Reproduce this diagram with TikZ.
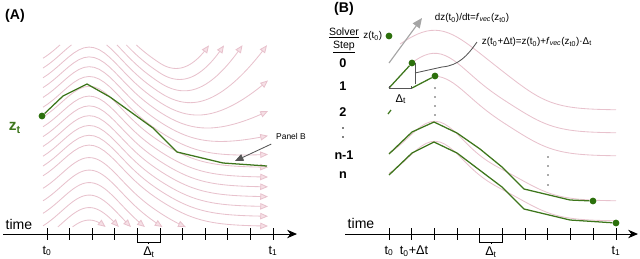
\documentclass[tikz,border=0pt]{standalone}
\usepackage{fontspec}
\setmainfont{Liberation Sans}
\usepackage{tikz}
\usetikzlibrary{arrows.meta, positioning, calc}
\definecolor{streampink}{RGB}{232,194,205}
\definecolor{streamfill}{RGB}{246,224,230}
\definecolor{pathgreen}{RGB}{62,118,28}
\definecolor{dotgreen}{RGB}{44,112,12}
\definecolor{notegray}{RGB}{85,85,85}
\definecolor{slopegray}{RGB}{165,165,165}
\tikzset{declare function={
    sA(\x)=-42*exp(-(((\x-90)/40)^2))+40/(1+exp(-(\x-168)/20))+10.5;
    sbend(\x)=(\x>160)*((\x-160)/108)^2;
    sB(\x,\w)=42-42*exp(-(((\x-435)/\w)^2))+38/(1+exp(-(\x-525)/18));
}}

\begin{document}
\begin{tikzpicture}[x=0.025cm, y=-0.025cm, font=\fontsize{9}{11}\selectfont,
    stream/.style={streampink, line width=0.6pt},
    streamarr/.style={stream, -{Triangle[length=5.5pt, width=4.6pt, fill=streamfill]}},
    euler/.style={pathgreen, line width=0.9pt, line join=round},
    dot/.style={circle, fill=dotgreen, inner sep=0pt, minimum size=0.17cm},
    axis/.style={line width=0.7pt, -{Stealth[length=7pt, width=6pt]}},
    tick/.style={line width=0.7pt},
    brk/.style={line width=0.6pt},
    callout/.style={notegray, line width=0.6pt},
    notearr/.style={notegray, line width=0.6pt, -{Triangle[length=6pt, width=5pt]}},
    slopearr/.style={slopegray, line width=0.8pt, -{Triangle[length=7pt, width=6pt]}},
    note/.style={font=\fontsize{7}{8}\selectfont},
    steplbl/.style={font=\bfseries\fontsize{9}{10}\selectfont}]
    \useasboundingbox (0,0) rectangle (640,258);

    % panel A: flow field
    \foreach \lev/\bend/\xa/\xb in {38.6/190.5/136.4/209, 48.4/145.9/126.4/224,
        58.2/107.2/117/242.5, 68/74.4/106.6/267, 77.8/47.6/43/268, 87.6/26.8/43/268, 97.4/11.9/43/268,
        107.2/3/43/268, 117/0/43/268, 126.8/0/43/268, 136.6/0/43/268, 146.4/0/43/268, 156.2/0/43/268,
        166/0/43/268, 175.8/0/43/268, 188.3/0/43/185.8, 200.8/0/43/162.5, 213.3/0/43/144.9,
        225.8/0/43/131, 238.3/0/57.8/118.8, 250.8/0/72.6/105.6}
        \draw[streamarr] plot[domain=\xa:\xb, samples=45] (\x, {\lev+sA(\x)-\bend*sbend(\x)});
    \foreach \lev/\bend/\xb in {68/74.4/71.5, 58.2/107.2/60}
        \draw[stream] plot[domain=43:\xb, samples=15] (\x, {\lev+sA(\x)-\bend*sbend(\x)});

    \node[dot] (zA) at (42,116) {};
    \draw[euler] (zA) -- (63,96) -- (87,84) -- (110,97) -- (153,128) -- (177,152) -- (223,163) -- (267,166);

    \node[font=\bfseries\fontsize{10}{12}\selectfont] (tagA) at (15,16) {(A)};
    \node[font=\bfseries\fontsize{11}{12}\selectfont, text=pathgreen] (ztlbl) at (15,128) {z\textsubscript{t}};
    \node[font=\fontsize{6}{7}\selectfont] (pnote) at (291,136) {Panel B};
    \coordinate (ptip) at (235,161);
    \draw[notearr] (pnote.south west) -- (ptip);

    \node[font=\fontsize{10}{12}\selectfont] (timeA) at (19,224) {time};
    \coordinate (axA0) at (3,234);
    \coordinate (axA1) at (297,234);
    \draw[axis] (axA0) -- (axA1);
    \foreach \i in {0,...,10}
        \draw[tick] ({47+22.6*\i},228) -- ({47+22.6*\i},240);
    \draw[brk] (137.4,240) -- (137.4,242) -- (160,242) -- (160,240);
    \draw[brk] (148.7,242) -- (148.7,244);
    \node (t0A) at (47,251) {t\textsubscript{0}};
    \node (dtA) at (149,252) {Δ\textsubscript{t}};
    \node (t1A) at (273,251) {t\textsubscript{1}};

    % panel B: solver steps
    \foreach \pk/\wd/\xa in {30/55/400, 53/45/412, 76/45/435, 121/38/389, 141/38/389}
        \draw[stream] plot[domain=\xa:616, samples=50] (\x, {\pk+sB(\x,\wd)});

    \node[font=\bfseries\fontsize{10}{12}\selectfont] (tagB) at (344,9) {(B)};
    \node[font=\fontsize{7.5}{9}\selectfont] (solverhd) at (344,33) {\underline{Solver}};
    \node[font=\fontsize{7.5}{9}\selectfont] (stephd) at (344,47) {\underline{Step}};
    \node[steplbl] (s0) at (343,63) {0};
    \node[steplbl] (s1) at (343,86) {1};
    \node[steplbl] (s2) at (343,112) {2};
    \fill (343,128) circle (0.7pt);
    \fill (343,137) circle (0.7pt);
    \node[steplbl] (snm1) at (344,155) {n-1};
    \node[steplbl] (sn) at (343,175) {n};

    \coordinate (slope0) at (389,63);
    \coordinate (slope1) at (422,18);
    \draw[slopearr] (slope0) -- (slope1);
    \node[dot] (zt0) at (389,36) {};
    \node[note, inner sep=1pt, left=1pt of zt0] (zt0lbl) {z(t\textsubscript{0})};
    \node[note, anchor=west] (fslope) at (430,18) {dz(t\textsubscript{0})/dt=\textit{f}\textsubscript{\textit{vec}}(z\textsubscript{t0})};
    \node[note, anchor=west] (fstep) at (477,42) {z(t\textsubscript{0}+Δt)=z(t\textsubscript{0})+\textit{f}\textsubscript{\textit{vec}}(z\textsubscript{t0})·Δ\textsubscript{t}};

    \node[dot] (e0) at (412,63) {};
    \node[dot] (e1) at (435,76) {};
    \draw[euler] (389,88) -- (e0);
    \draw[euler] (412,88) -- (e1);
    \draw[euler] (388,114) -- (391,110);
    \draw[brk, notegray] (389,86) -- (389,88) -- (411,88) -- (411,86);
    \draw[brk, notegray] (415,63) -- (415,84);
    \node[font=\fontsize{8}{9}\selectfont] (dtB1) at (401,99) {Δ\textsubscript{t}};
    \coordinate (bkmid) at (415,73);
    \coordinate (bkbend) at (442,67);
    \draw[callout] (bkmid) -- (bkbend) to[out=5, in=-125] (fstep.west);

    \foreach \y in {88,97,106,115}
        \fill[notegray] (435,\y) circle (0.6pt);
    \foreach \y in {157,166,175,185}
        \fill[notegray] (548,\y) circle (0.6pt);

    \node[dot] (bnm1) at (593,201) {};
    \node[dot] (bn) at (616,223) {};
    \draw[euler] (389,154) -- (412,132) -- (434,122) -- (457,133) -- (480,149) -- (502,167) -- (524,189) -- (570,200) -- (bnm1);
    \draw[euler] (389,175) -- (412,153) -- (434,142) -- (457,153) -- (502,187) -- (524,209) -- (570,220) -- (bn);

    \node[font=\fontsize{10}{12}\selectfont] (timeB) at (361,223) {time};
    \coordinate (axB0) at (345,234);
    \coordinate (axB1) at (638,234);
    \draw[axis] (axB0) -- (axB1);
    \foreach \i in {0,...,10}
        \draw[tick] ({389+22.7*\i},228) -- ({389+22.7*\i},240);
    \draw[brk] (479.8,240) -- (479.8,242) -- (502.5,242) -- (502.5,240);
    \draw[brk] (491.2,242) -- (491.2,244);
    \node (t0B) at (389,251) {t\textsubscript{0}};
    \node (t0dtB) at (414,251) {t\textsubscript{0}+Δt};
    \node (dtB) at (491,252) {Δ\textsubscript{t}};
    \node (t1B) at (616,251) {t\textsubscript{1}};
\end{tikzpicture}
\end{document}
